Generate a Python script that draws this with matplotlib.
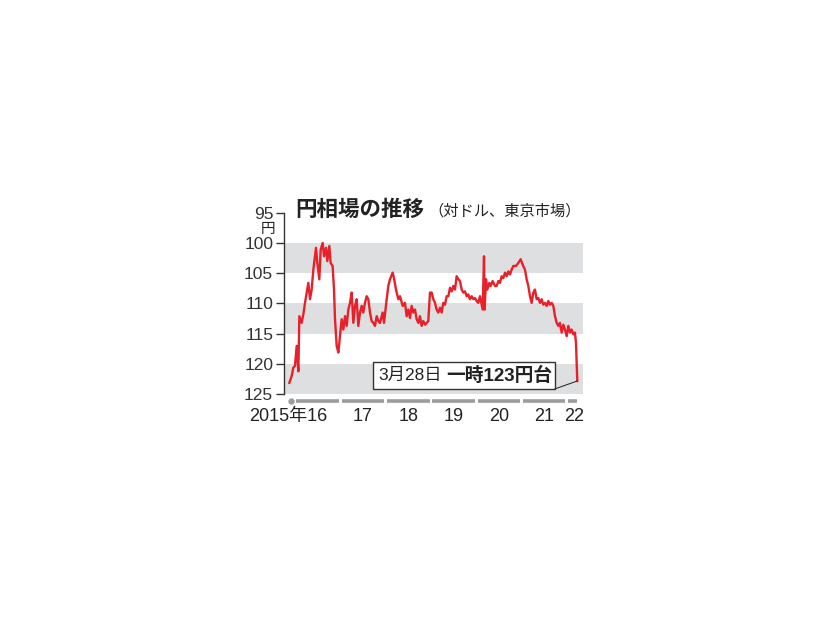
import matplotlib.pyplot as plt
from matplotlib.patches import Rectangle

plt.rcParams['font.family'] = ['Liberation Sans', 'Noto Sans CJK JP', 'DejaVu Sans']

# fractional year, yen per dollar
dates = [
    2015.875, 2015.926, 2015.963, 2016.000, 2016.037, 2016.074, 2016.096, 2016.147,
    2016.184, 2016.221, 2016.258, 2016.294, 2016.331, 2016.368, 2016.405, 2016.464,
    2016.493, 2016.537, 2016.567, 2016.611, 2016.640, 2016.684, 2016.714, 2016.758,
    2016.787, 2016.831, 2016.861, 2016.883, 2016.920, 2016.957, 2016.993, 2017.030,
    2017.067, 2017.104, 2017.141, 2017.177, 2017.214, 2017.251, 2017.288, 2017.324,
    2017.361, 2017.398, 2017.435, 2017.472, 2017.508, 2017.545, 2017.582, 2017.619,
    2017.656, 2017.692, 2017.729, 2017.766, 2017.803, 2017.840, 2017.876, 2017.935,
    2017.965, 2018.024, 2018.060, 2018.097, 2018.156, 2018.185, 2018.230, 2018.281,
    2018.318, 2018.377, 2018.428, 2018.465, 2018.502, 2018.539, 2018.575, 2018.612,
    2018.649, 2018.686, 2018.723, 2018.759, 2018.796, 2018.833, 2018.870, 2018.907,
    2018.943, 2018.980, 2019.017, 2019.054, 2019.091, 2019.127, 2019.164, 2019.201,
    2019.238, 2019.274, 2019.311, 2019.348, 2019.385, 2019.422, 2019.458, 2019.495,
    2019.532, 2019.569, 2019.606, 2019.642, 2019.679, 2019.716, 2019.753, 2019.790,
    2019.826, 2019.863, 2019.900, 2019.937, 2019.974, 2020.010, 2020.047, 2020.084,
    2020.121, 2020.143, 2020.173, 2020.187, 2020.217, 2020.246, 2020.290, 2020.319,
    2020.364, 2020.415, 2020.452, 2020.489, 2020.525, 2020.562, 2020.599, 2020.636,
    2020.673, 2020.709, 2020.746, 2020.783, 2020.820, 2020.879, 2020.930, 2020.982,
    2021.026, 2021.077, 2021.114, 2021.151, 2021.188, 2021.224, 2021.261, 2021.298,
    2021.335, 2021.372, 2021.408, 2021.445, 2021.482, 2021.519, 2021.556, 2021.592,
    2021.629, 2021.666, 2021.703, 2021.740, 2021.777, 2021.813, 2021.850, 2021.887,
    2021.924, 2021.960, 2021.997, 2022.034, 2022.071, 2022.107, 2022.144, 2022.181,
    2022.203, 2022.232,
]
yen = [
    123.1, 122.0, 120.6, 120.3, 117.0, 121.2, 112.1, 113.2,
    111.8, 109.9, 108.2, 106.6, 109.3, 107.7, 104.4, 100.8,
    103.3, 106.0, 101.1, 100.0, 102.2, 100.8, 103.0, 100.5,
    103.3, 103.8, 107.7, 112.6, 117.0, 118.1, 115.4, 112.6,
    114.3, 112.1, 113.7, 111.0, 109.9, 108.2, 113.2, 110.4,
    109.3, 113.7, 111.5, 110.4, 111.5, 109.9, 108.8, 109.3,
    111.5, 112.9, 113.2, 113.7, 112.1, 112.9, 113.2, 111.5,
    113.2, 109.3, 107.1, 106.0, 104.9, 105.8, 107.7, 109.3,
    108.8, 110.4, 109.9, 112.1, 111.0, 112.4, 110.4, 111.5,
    111.0, 112.6, 113.2, 112.1, 113.7, 112.9, 113.5, 113.2,
    112.9, 108.2, 108.2, 109.3, 109.9, 111.0, 111.5, 110.7,
    111.5, 109.9, 110.2, 108.8, 108.8, 107.4, 108.0, 107.1,
    107.7, 105.5, 106.0, 106.3, 107.7, 108.2, 108.0, 108.8,
    108.5, 109.3, 108.8, 109.3, 109.1, 109.6, 109.9, 108.8,
    110.2, 111.0, 102.2, 111.0, 106.0, 107.7, 106.6, 107.1,
    106.3, 107.1, 107.1, 106.3, 106.6, 105.5, 105.8, 104.9,
    105.5, 104.7, 105.2, 104.4, 103.8, 103.8, 103.3, 102.7,
    103.6, 104.4, 106.0, 107.1, 108.8, 109.9, 108.2, 107.7,
    109.3, 109.1, 109.9, 109.3, 110.2, 109.9, 110.4, 109.6,
    110.2, 109.9, 110.4, 112.1, 113.2, 113.7, 113.2, 114.8,
    113.5, 114.3, 115.4, 113.7, 114.8, 114.3, 115.1, 114.8,
    116.5, 122.8,
]

years = [2016, 2017, 2018, 2019, 2020, 2021, 2022]
year_labels = ['16', '17', '18', '19', '20', '21', '22']
year_ends = [2016.97, 2017.97, 2018.97, 2019.97, 2020.97, 2021.97, 2022.23]
yticks = [95, 100, 105, 110, 115, 120, 125]
bands = [(100, 105), (110, 115), (120, 125)]

red = '#e8202a'
bar_gray = '#9c9c9c'
txt = '#222222'

fig = plt.figure(figsize=(8.26, 6.2), dpi=100)
ax = fig.add_axes([0.3442, 0.364, 0.3616, 0.293])

for lo, hi in bands:
    ax.axhspan(lo, hi, color='#dedfe1', lw=0, zorder=0)

ax.plot(dates, yen, color=red, lw=1.7, zorder=3)

ax.set_xlim(2015.764, 2022.358)
ax.set_ylim(125, 95)
ax.set_yticks(yticks)
ax.set_yticklabels([str(t) for t in yticks], fontsize=12.5, color=txt)
ax.tick_params(axis='y', direction='out', length=6, width=1, pad=2, colors='#333333')
ax.set_xticks([])
for s in ['top', 'right', 'bottom']:
    ax.spines[s].set_visible(False)
ax.spines['left'].set_color('#333333')
ax.spines['left'].set_linewidth(1)
ax.text(-0.03, 0.912, '円', transform=ax.transAxes, ha='right', va='center',
        fontsize=10.5, color=txt)

# year bars under the plot
bar_y = 126.05
for y0, y1 in zip(years, year_ends):
    ax.plot([y0 + 0.03, y1], [bar_y, bar_y], color=bar_gray, lw=2.6,
            solid_capstyle='butt', clip_on=False)
ax.plot([2015.905], [bar_y], marker='o', ms=3.5, color=bar_gray, clip_on=False)

label_x = [2016.5, 2017.5, 2018.5, 2019.5, 2020.5, 2021.5, 2022.17]
for x, lab in zip(label_x, year_labels):
    if lab == '16':
        ax.text(2016.72, 128.7, '2015年16', ha='right', va='center', fontsize=13,
                color=txt, clip_on=False)
    else:
        ax.text(x, 128.7, lab, ha='center', va='center', fontsize=13,
                color=txt, clip_on=False)

# title
fig.text(0.357, 0.661, '円相場の推移', fontsize=15.5, fontweight='bold',
         ha='left', va='center', color=txt)
fig.text(0.519, 0.659, '（対ドル、東京市場）', fontsize=11,
         ha='left', va='center', color=txt)

# annotation box
box = Rectangle((2017.73, 119.67), 4.01, 4.5, facecolor='white',
                edgecolor='#333333', lw=1, zorder=4)
ax.add_patch(box)
ax.plot([2021.74, dates[-1]], [124.1, yen[-1]], color='#333333', lw=0.8, zorder=4)
ax.text(2017.85, 121.9, '3月28日', fontsize=12.5, ha='left', va='center',
        color=txt, zorder=5)
ax.text(2021.68, 121.9, '一時123円台', fontsize=13.5, fontweight='bold',
        ha='right', va='center', color=txt, zorder=5)

fig.savefig('out.png', dpi=100)
